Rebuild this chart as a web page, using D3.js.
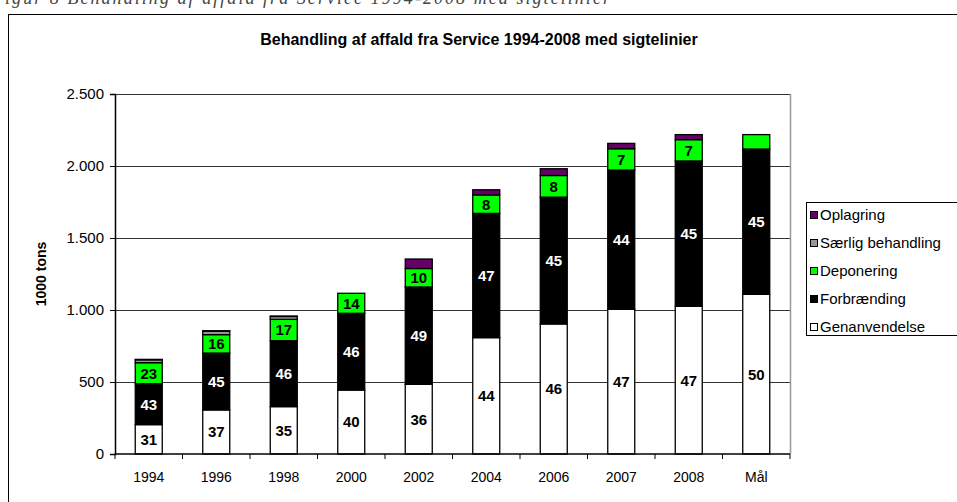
<!DOCTYPE html>
<html>
<head>
<meta charset="utf-8">
<script src="https://cdn.jsdelivr.net/npm/d3@7"></script>
<style>
  body { margin: 0; background: #fff; }
  text { font-family: "Liberation Sans", Arial, sans-serif; }
</style>
</head>
<body>
<script>
// data (1000 tons)
var years = ["1994", "1996", "1998", "2000", "2002", "2004", "2006", "2007", "2008", "Mål"];
var genanvendelse = [204, 306, 329, 444, 484, 808, 903, 1005, 1026, 1109];
var forbraending  = [284, 395, 458, 533, 676, 863, 881, 967, 1009, 1009];
var deponering    = [146, 128, 148, 139, 128, 128, 150, 148, 148, 100];
var saerlig       = [20, 24, 20, 0, 0, 0, 0, 0, 0, 0];
var oplagring     = [3, 3, 3, 0, 66, 36, 47, 37, 35, 0];

// percent labels printed in the bars
var pctGen = [31, 37, 35, 40, 36, 44, 46, 47, 47, 50];
var pctFor = [43, 45, 46, 46, 49, 47, 45, 44, 45, 45];
var pctDep = [23, 16, 17, 14, 10, 8, 8, 7, 7, null];

var yTicks = [0, 500, 1000, 1500, 2000, 2500];

var seriesNames = ["Genanvendelse", "Forbrænding", "Deponering", "Særlig behandling", "Oplagring"];
var colors = ["#ffffff", "#000000", "#00ff00", "#969696", "#660066"];

var width = 957, height = 502;
var plotLeft = 115, plotRight = 790, plotTop = 94, plotBottom = 454;

var svg = d3.select("body").append("svg")
    .attr("width", width)
    .attr("height", height);

// caption above the frame (cut off at the top edge)
svg.append("text")
    .attr("x", -8).attr("y", 4)
    .attr("textLength", 618)
    .style("font-family", "'Liberation Serif', serif")
    .style("font-style", "italic")
    .style("font-size", "18px")
    .attr("fill", "#444")
    .text("Figur 8 Behandling af affald fra Service 1994-2008 med sigtelinier");

// chart frame
svg.append("rect")
    .attr("x", 8.5).attr("y", 14.5)
    .attr("width", 970).attr("height", 500)
    .attr("fill", "#fff").attr("stroke", "#000");

svg.append("text")
    .attr("x", 479).attr("y", 45)
    .attr("text-anchor", "middle")
    .style("font-size", "16px").style("font-weight", "bold")
    .text("Behandling af affald fra Service 1994-2008 med sigtelinier");

var x = d3.scaleBand().domain(years).range([plotLeft, plotRight]);
var y = d3.scaleLinear().domain([0, 2500]).range([plotBottom, plotTop]);
var barW = 27;

var table = years.map(function (yr, i) {
    return {
        year: yr,
        "Genanvendelse": genanvendelse[i],
        "Forbrænding": forbraending[i],
        "Deponering": deponering[i],
        "Særlig behandling": saerlig[i],
        "Oplagring": oplagring[i]
    };
});
var stacked = d3.stack().keys(seriesNames)(table);

// gridlines
svg.append("g").selectAll("line")
    .data(yTicks.slice(1))
    .enter().append("line")
    .attr("x1", plotLeft).attr("x2", plotRight)
    .attr("y1", d => Math.round(y(d)) + 0.5)
    .attr("y2", d => Math.round(y(d)) + 0.5)
    .attr("stroke", "#333");

// plot area right border
svg.append("line")
    .attr("x1", plotRight + 0.5).attr("x2", plotRight + 0.5)
    .attr("y1", plotTop).attr("y2", plotBottom)
    .attr("stroke", "#999").attr("stroke-width", 1.5);

// bars
var layer = svg.append("g").selectAll("g")
    .data(stacked)
    .enter().append("g")
    .attr("fill", (d, i) => colors[i]);

layer.selectAll("rect")
    .data(d => d.filter(s => s[1] - s[0] > 0))
    .enter().append("rect")
    .attr("x", d => x(d.data.year) + x.bandwidth() / 2 - barW / 2)
    .attr("width", barW)
    .attr("y", d => y(d[1]))
    .attr("height", d => y(d[0]) - y(d[1]))
    .attr("stroke", "#000")
    .attr("stroke-width", 1.3);

// labels in bars
var labelSets = [
    { idx: 0, vals: pctGen, fill: "#000" },
    { idx: 1, vals: pctFor, fill: "#fff" },
    { idx: 2, vals: pctDep, fill: "#000" }
];
labelSets.forEach(function (ls) {
    svg.append("g").selectAll("text")
        .data(stacked[ls.idx].filter((s, i) => ls.vals[i] != null))
        .enter().append("text")
        .attr("x", d => x(d.data.year) + x.bandwidth() / 2)
        .attr("y", d => (y(d[0]) + y(d[1])) / 2)
        .attr("dy", "0.36em")
        .attr("text-anchor", "middle")
        .attr("fill", ls.fill)
        .style("font-size", "15px").style("font-weight", "bold")
        .text(d => ls.vals[years.indexOf(d.data.year)]);
});

// y axis
var fmt = d3.formatLocale({ decimal: ",", thousands: ".", grouping: [3], currency: ["", ""] }).format(",d");
var yAxis = svg.append("g")
    .attr("transform", "translate(" + plotLeft + ",0)")
    .call(d3.axisLeft(y).tickValues(yTicks).tickFormat(fmt).tickSize(5).tickPadding(6));
yAxis.select(".domain").attr("stroke", "#000").attr("stroke-width", 1.5);
yAxis.selectAll("text").style("font-size", "15px").attr("fill", "#000")
    .style("font-family", "'Liberation Sans', Arial, sans-serif");

// x axis
svg.append("line")
    .attr("x1", plotLeft).attr("x2", plotRight)
    .attr("y1", plotBottom).attr("y2", plotBottom)
    .attr("stroke", "#000").attr("stroke-width", 1.5);
svg.append("g").selectAll("line")
    .data(years.concat(["end"]))
    .enter().append("line")
    .attr("x1", (d, i) => plotLeft + i * x.step())
    .attr("x2", (d, i) => plotLeft + i * x.step())
    .attr("y1", plotBottom).attr("y2", plotBottom + 5)
    .attr("stroke", "#000");
svg.append("g").selectAll("text")
    .data(years)
    .enter().append("text")
    .attr("x", d => x(d) + x.bandwidth() / 2)
    .attr("y", 482)
    .attr("text-anchor", "middle")
    .style("font-size", "14px")
    .text(d => d);

svg.append("text")
    .attr("transform", "translate(46,274) rotate(-90)")
    .attr("text-anchor", "middle")
    .style("font-size", "14px").style("font-weight", "bold")
    .text("1000 tons");

// legend
var legend = svg.append("g");
legend.append("rect")
    .attr("x", 806.5).attr("y", 202.5)
    .attr("width", 180).attr("height", 133)
    .attr("fill", "#fff").attr("stroke", "#000");
var legItems = seriesNames.slice().reverse();
var legColors = colors.slice().reverse();
legItems.forEach(function (name, i) {
    var cy = 215 + i * 28;
    legend.append("rect")
        .attr("x", 810.5).attr("y", cy - 3.5)
        .attr("width", 7).attr("height", 7)
        .attr("fill", legColors[i]).attr("stroke", "#000");
    legend.append("text")
        .attr("x", 820).attr("y", cy)
        .attr("dy", "0.36em")
        .style("font-size", "15px")
        .text(name);
});
</script>
</body>
</html>
